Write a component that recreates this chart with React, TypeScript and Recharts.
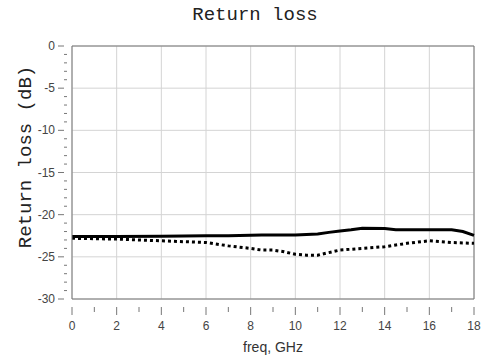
import { LineChart, Line, XAxis, YAxis, ReferenceLine } from "recharts";

// frequency points (GHz) and the two measured return loss traces (dB)
const freqs = [0, 2, 4, 6, 7, 8, 8.5, 9, 9.5, 10, 10.5, 11, 11.5, 12, 12.5, 13, 14, 14.5, 15, 16, 17, 17.5, 18];
const solidLoss = [-22.6, -22.6, -22.55, -22.5, -22.5, -22.45, -22.4, -22.4, -22.4, -22.4, -22.35, -22.3, -22.1, -21.95, -21.8, -21.6, -21.65, -21.8, -21.8, -21.8, -21.8, -22.0, -22.45];
const dottedLoss = [-22.8, -22.9, -23.1, -23.3, -23.7, -24.0, -24.2, -24.2, -24.4, -24.7, -24.8, -24.8, -24.5, -24.2, -24.1, -24.0, -23.8, -23.6, -23.4, -23.1, -23.3, -23.35, -23.4];

const xTicks = Array.from({ length: 19 }, (_, i) => i);
const xMajor = [0, 2, 4, 6, 8, 10, 12, 14, 16, 18];
const yTicks = Array.from({ length: 31 }, (_, i) => -30 + i);
const yMajor = [0, -5, -10, -15, -20, -25, -30];

const chartData = freqs.map((f, i) => ({ freq: f, solid: solidLoss[i], dotted: dottedLoss[i] }));

const axisColor = "#777777";
const gridColor = "#d4d4d4";
const labelFont = "'Liberation Sans', Arial, sans-serif";
const titleFont = "'Liberation Mono', 'DejaVu Sans Mono', monospace";

function XTick({ x, y, payload }: any) {
  const major = payload.value % 2 === 0;
  return (
    <g>
      <line x1={x} x2={x} y1={y} y2={y + (major ? 8 : 5)} stroke={axisColor} />
      {major && (
        <text x={x} y={y + 23} textAnchor="middle" fontSize={12} fill="#444" fontFamily={labelFont}>
          {payload.value}
        </text>
      )}
    </g>
  );
}

function YTick({ x, y, payload }: any) {
  const major = payload.value % 5 === 0;
  return (
    <g>
      {major ? (
        <line x1={x - 6} x2={x} y1={y} y2={y} stroke={axisColor} />
      ) : (
        <line x1={x} x2={x + 3} y1={y} y2={y} stroke={axisColor} />
      )}
      {major && (
        <text x={x - 9} y={y + 4} textAnchor="end" fontSize={12} fill="#444" fontFamily={labelFont}>
          {payload.value}
        </text>
      )}
    </g>
  );
}

export default function App() {
  return (
    <div style={{ position: "absolute", left: 0, top: 0, width: 489, height: 361, background: "#fff" }}>
      <div
        style={{
          position: "absolute", left: 0, top: 4, width: 510, textAlign: "center",
          fontFamily: titleFont, fontSize: 19, color: "#222",
        }}
      >
        Return loss
      </div>
      <div
        style={{
          position: "absolute", left: 26, top: 157, width: 240, marginLeft: -120, textAlign: "center",
          transform: "translateY(-50%) rotate(-90deg)", fontFamily: titleFont, fontSize: 19, color: "#222",
        }}
      >
        Return loss (dB)
      </div>
      <div
        style={{
          position: "absolute", left: 72, top: 339, width: 402, textAlign: "center",
          fontFamily: labelFont, fontSize: 14, color: "#333",
        }}
      >
        freq, GHz
      </div>
      <LineChart width={489} height={361} data={chartData} margin={{ top: 46, right: 15, left: 0, bottom: 0 }}>
        {xMajor.map((v) => (
          <ReferenceLine key={"gx" + v} x={v} stroke={gridColor} strokeWidth={1} />
        ))}
        {yMajor.map((v) => (
          <ReferenceLine key={"gy" + v} y={v} stroke={gridColor} strokeWidth={1} />
        ))}
        <ReferenceLine y={0} stroke={axisColor} />
        <ReferenceLine x={18} stroke={axisColor} />
        <XAxis
          dataKey="freq"
          type="number"
          domain={[0, 18]}
          ticks={xTicks}
          interval={0}
          height={62}
          stroke={axisColor}
          tickLine={false}
          tick={<XTick />}
        />
        <YAxis
          type="number"
          domain={[-30, 0]}
          ticks={yTicks}
          interval={0}
          width={72}
          stroke={axisColor}
          tickLine={false}
          tick={<YTick />}
        />
        <Line dataKey="solid" stroke="#000" strokeWidth={3} dot={false} isAnimationActive={false} type="linear" />
        <Line dataKey="dotted" stroke="#000" strokeWidth={3} strokeDasharray="3 3" dot={false} isAnimationActive={false} type="linear" />
      </LineChart>
    </div>
  );
}
